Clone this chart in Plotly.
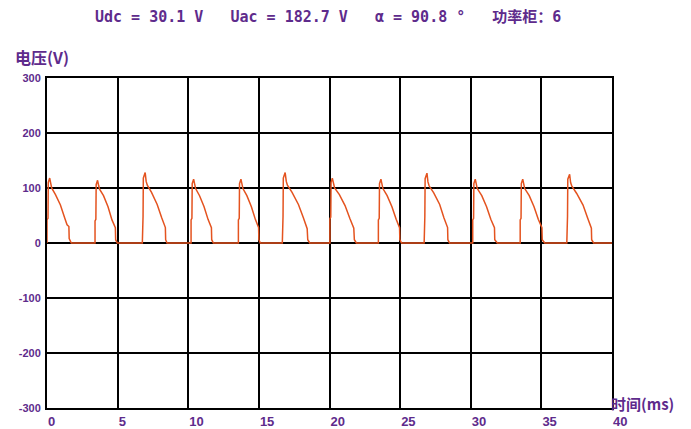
import plotly.graph_objects as go

# ---- data (time in ms, voltage in V) ----
time_ms = [
    0.00, 0.00, 0.07, 0.09, 0.19, 0.26, 0.33, 0.60, 0.95, 1.26, 1.42, 1.55, 1.57, 1.72,
    3.40, 3.40, 3.46, 3.48, 3.58, 3.66, 3.72, 4.00, 4.32, 4.60, 4.74, 4.84, 4.86, 4.98,
    6.75, 6.75, 6.80, 6.82, 6.95, 7.02, 7.10, 7.40, 7.80, 8.12, 8.28, 8.38, 8.40, 8.50,
    10.20, 10.20, 10.26, 10.28, 10.38, 10.45, 10.52, 10.80, 11.12, 11.40, 11.55, 11.64, 11.66, 11.78,
    13.55, 13.55, 13.61, 13.63, 13.73, 13.80, 13.87, 14.15, 14.47, 14.75, 14.90, 14.98, 15.00, 15.10,
    16.66, 16.66, 16.71, 16.73, 16.86, 16.94, 17.02, 17.35, 17.80, 18.15, 18.32, 18.42, 18.46, 18.60,
    20.03, 20.03, 20.09, 20.11, 20.20, 20.28, 20.36, 20.70, 21.10, 21.45, 21.62, 21.72, 21.76, 21.90,
    23.46, 23.46, 23.52, 23.54, 23.64, 23.71, 23.78, 24.08, 24.42, 24.72, 24.88, 24.96, 24.98, 25.10,
    26.70, 26.70, 26.75, 26.77, 26.90, 26.97, 27.05, 27.38, 27.80, 28.10, 28.26, 28.36, 28.38, 28.50,
    30.14, 30.14, 30.20, 30.22, 30.32, 30.39, 30.46, 30.78, 31.12, 31.42, 31.58, 31.68, 31.70, 31.88,
    33.50, 33.50, 33.56, 33.58, 33.68, 33.75, 33.82, 34.14, 34.48, 34.78, 34.94, 35.04, 35.06, 35.24,
    36.80, 36.80, 36.85, 36.87, 37.00, 37.07, 37.15, 37.50, 37.95, 38.28, 38.44, 38.54, 38.56, 38.70,
    40.00,
]
voltage_v = [
    0, 42, 45, 110, 118, 106, 100, 88, 69, 45, 33, 30, 8, 0,
    0, 40, 43, 106, 114, 104, 98, 86, 66, 42, 32, 28, 6, 0,
    0, 45, 48, 118, 128, 112, 105, 92, 70, 46, 34, 28, 6, 0,
    0, 42, 45, 108, 116, 105, 99, 86, 66, 43, 32, 28, 6, 0,
    0, 42, 45, 108, 116, 105, 99, 86, 66, 43, 32, 28, 6, 0,
    0, 45, 48, 118, 128, 112, 105, 92, 70, 46, 34, 26, 6, 0,
    0, 44, 47, 110, 118, 106, 100, 88, 68, 44, 32, 27, 6, 0,
    0, 42, 45, 108, 116, 105, 99, 86, 66, 43, 32, 28, 6, 0,
    0, 45, 48, 117, 127, 111, 104, 91, 70, 46, 34, 28, 6, 0,
    0, 42, 45, 108, 116, 105, 99, 86, 66, 43, 32, 28, 6, 0,
    0, 42, 45, 108, 116, 105, 99, 86, 66, 43, 32, 28, 6, 0,
    0, 45, 48, 116, 125, 110, 104, 90, 69, 45, 33, 27, 6, 0,
    0,
]
x_ticks = [0, 5, 10, 15, 20, 25, 30, 35, 40]
y_ticks = [300, 200, 100, 0, -100, -200, -300]
header_text = "Udc = 30.1 V   Uac = 182.7 V   α = 90.8 °   功率柜：6"
y_title = "电压(V)"
x_title = "时间(ms)"

PURPLE = "#5E2B8C"
LINE = "#E4531F"

fig = go.Figure()
fig.add_trace(go.Scatter(x=time_ms, y=voltage_v, mode="lines",
                         line=dict(color=LINE, width=1.5), showlegend=False))

fig.update_layout(
    width=691, height=429,
    margin=dict(l=47, r=79, t=78, b=21, autoexpand=False),
    paper_bgcolor="white", plot_bgcolor="white",
    xaxis=dict(range=[0, 40], tickvals=x_ticks, ticktext=[str(v) for v in x_ticks],
               showgrid=True, gridcolor="black", gridwidth=2,
               showline=True, linecolor="black", linewidth=2, mirror=True,
               zeroline=False, ticks="", ticklabelposition="outside right",
               automargin=False, ticklabelstandoff=0,
               tickfont=dict(family="Liberation Sans", size=13, color=PURPLE, weight="bold")),
    yaxis=dict(range=[-300, 300], tickvals=y_ticks, ticktext=[str(v) for v in y_ticks],
               showgrid=True, gridcolor="black", gridwidth=2,
               showline=True, linecolor="black", linewidth=2, mirror=True,
               zeroline=False, ticks="", ticklabelstandoff=2, automargin=False,
               tickfont=dict(family="Liberation Sans", size=11, color=PURPLE, weight="bold")),
    annotations=[
        dict(text=header_text, xref="paper", yref="paper", x=0.4965, y=1.1848,
             xanchor="center", yanchor="middle", showarrow=False,
             font=dict(family="DejaVu Sans Mono, Noto Sans CJK SC", size=15, color=PURPLE, weight="bold")),
        dict(text=y_title, xref="paper", yref="paper", x=(13 - 47) / 565, y=(408 - 57) / 330,
             xanchor="left", yanchor="middle", showarrow=False,
             font=dict(family="Noto Sans CJK SC", size=16, color=PURPLE, weight="bold")),
        dict(text=x_title, xref="paper", yref="paper", x=(609 - 47) / 565, y=(408 - 403) / 330,
             xanchor="left", yanchor="middle", showarrow=False,
             font=dict(family="Noto Sans CJK SC", size=15, color=PURPLE, weight="bold")),
    ],
)

fig.write_html("out.html")
